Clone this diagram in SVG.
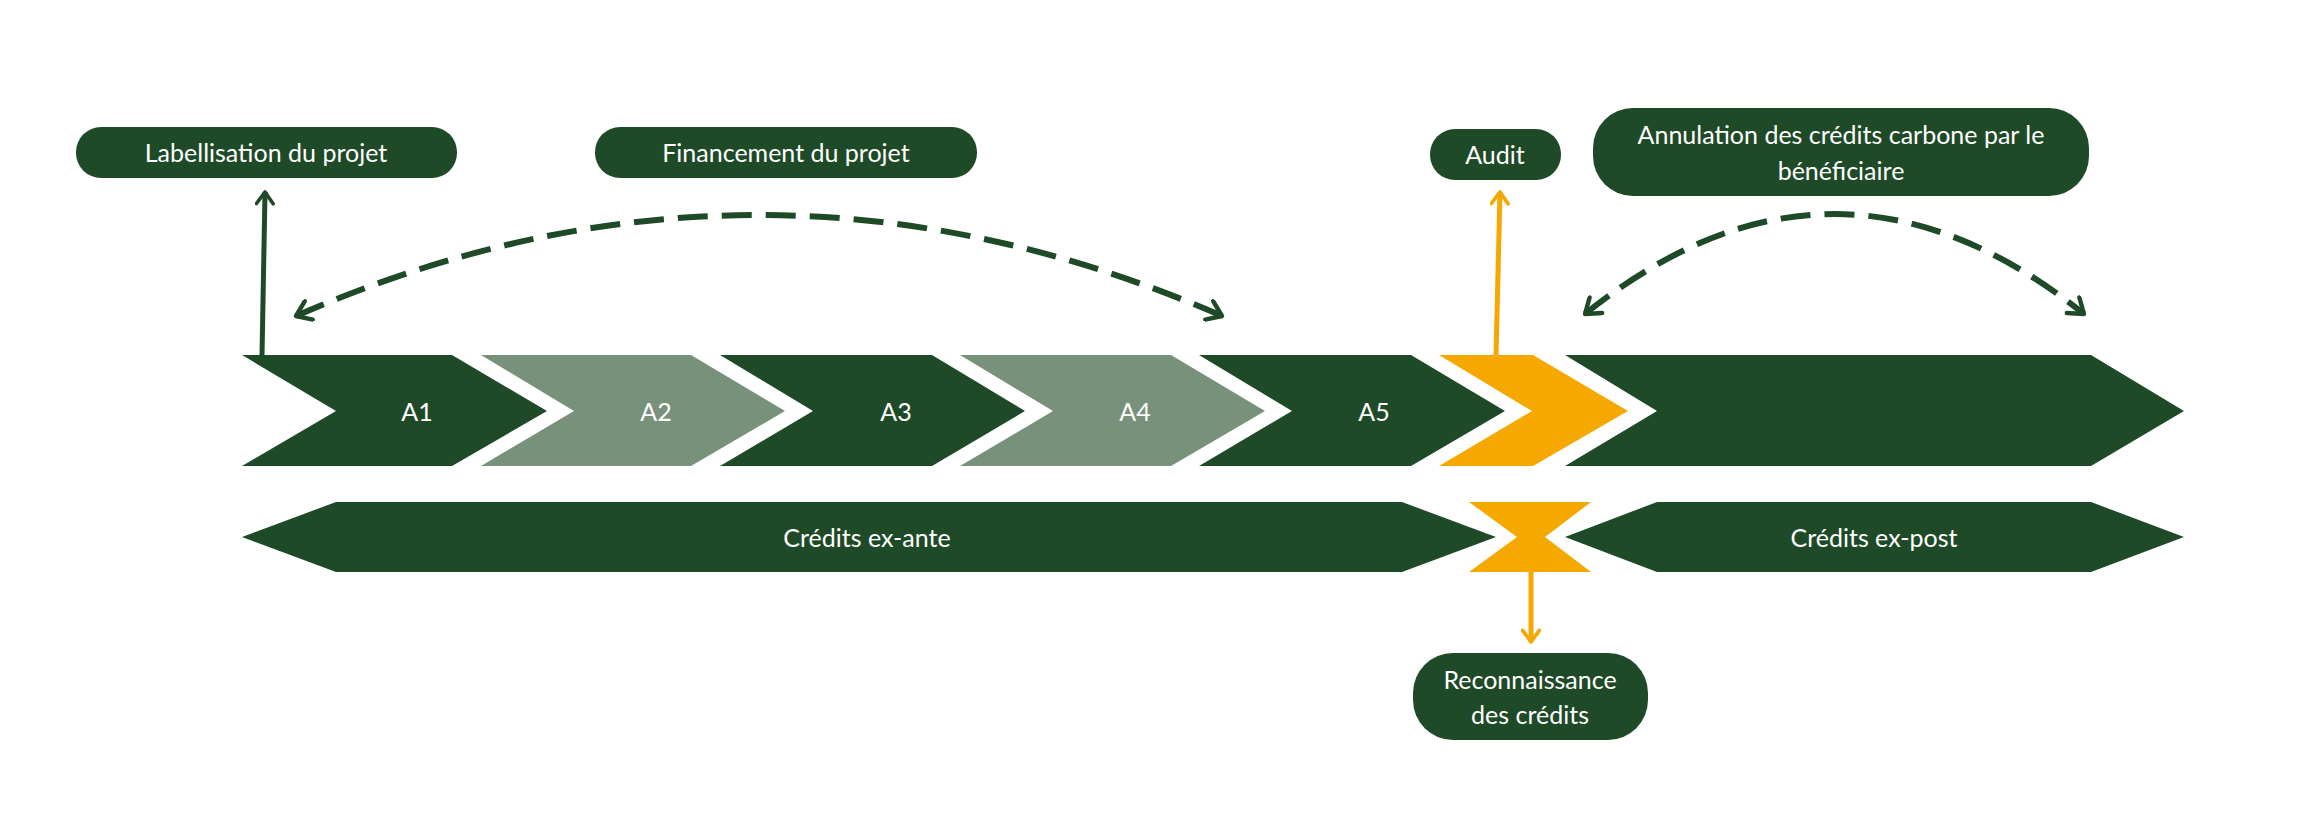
<svg xmlns="http://www.w3.org/2000/svg" width="2305" height="829" viewBox="0 0 2305 829">
<style>
.d{fill:#1f4a27}.l{fill:#78917b}.o{fill:#f5a800}
text{font-family:Lato,"Open Sans",sans-serif;font-size:25px;fill:#fff;text-anchor:middle;dominant-baseline:central}
.dash{fill:none;stroke:#1f4a27;stroke-width:6;stroke-dasharray:30 14}
</style>
<defs>
<marker id="ag" viewBox="0 0 12 12" refX="9" refY="6" markerWidth="4" markerHeight="4" orient="auto-start-reverse" markerUnits="strokeWidth"><path d="M2,1 L9,6 L2,11" fill="none" stroke="#1f4a27" stroke-width="2.2" stroke-linecap="round" stroke-linejoin="round"/></marker>
<marker id="ao" viewBox="0 0 12 12" refX="9" refY="6" markerWidth="4" markerHeight="4" orient="auto" markerUnits="strokeWidth"><path d="M2,1 L9,6 L2,11" fill="none" stroke="#f5a800" stroke-width="2.2" stroke-linecap="round" stroke-linejoin="round"/></marker>
</defs>
<g id="connectors">
<line x1="262" y1="356" x2="265" y2="192" stroke="#1f4a27" stroke-width="5" marker-end="url(#ag)"/>
<line x1="1496" y1="356" x2="1500" y2="192" stroke="#f5a800" stroke-width="5" marker-end="url(#ao)"/>
<line x1="1531" y1="572" x2="1531" y2="642" stroke="#f5a800" stroke-width="5" marker-end="url(#ao)"/>
<path class="dash" d="M296,316 Q758,114 1222,316" marker-start="url(#ag)" marker-end="url(#ag)"/>
<path class="dash" d="M1585,314 Q1834,114 2084,314" marker-start="url(#ag)" marker-end="url(#ag)"/>
</g>
<g id="A1"><path class="d" d="M242,355H452L547,411L452,466H242L336,411Z"/><text x="417" y="411">A1</text></g>
<g id="A2"><path class="l" d="M481,355H691L785,411L691,466H481L574,411Z"/><text x="656" y="411">A2</text></g>
<g id="A3"><path class="d" d="M720,355H932L1025,411L932,466H720L813,411Z"/><text x="896" y="411">A3</text></g>
<g id="A4"><path class="l" d="M960,355H1171L1265,411L1171,466H960L1053,411Z"/><text x="1135" y="411">A4</text></g>
<g id="A5"><path class="d" d="M1199,355H1411L1505,411L1411,466H1199L1292,411Z"/><text x="1374" y="411">A5</text></g>
<g id="audit-step"><path class="o" d="M1439,355H1533L1628,411L1533,466H1439L1532,411Z"/></g>
<g id="post-phase"><path class="d" d="M1565,355H2091L2184,411L2091,466H1565L1657,411Z"/></g>
<g id="ex-ante"><path class="d" d="M242,537L336,502H1402L1496,537L1402,572H336Z"/><text x="867" y="537">Crédits ex-ante</text></g>
<g id="hourglass"><path class="o" d="M1469,502H1591L1545,537L1591,572H1469L1517,537Z"/></g>
<g id="ex-post"><path class="d" d="M1565,537L1657,502H2091L2184,537L2091,572H1657Z"/><text x="1874" y="537">Crédits ex-post</text></g>
<g id="labellisation"><rect class="d" x="76" y="127" width="381" height="51" rx="25"/><text x="266" y="152">Labellisation du projet</text></g>
<g id="financement"><rect class="d" x="595" y="127" width="382" height="51" rx="25"/><text x="786" y="152">Financement du projet</text></g>
<g id="audit"><rect class="d" x="1430" y="129" width="131" height="51" rx="25"/><text x="1495" y="154">Audit</text></g>
<g id="annulation"><rect class="d" x="1593" y="108" width="496" height="88" rx="40"/><text x="1841" y="134">Annulation des crédits carbone par le</text><text x="1841" y="170">bénéficiaire</text></g>
<g id="reconnaissance"><rect class="d" x="1413" y="653" width="235" height="87" rx="40"/><text x="1530" y="679">Reconnaissance</text><text x="1530" y="714">des crédits</text></g>
</svg>
